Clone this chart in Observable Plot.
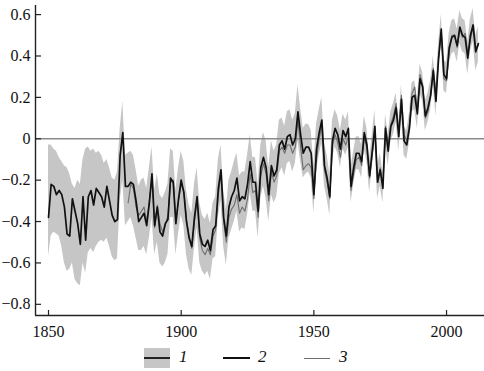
<!DOCTYPE html>
<html>
<head>
<meta charset="utf-8">
<script src="https://cdn.jsdelivr.net/npm/d3@7"></script>
<script src="https://cdn.jsdelivr.net/npm/@observablehq/plot@0.6"></script>
<style>
  html, body { margin: 0; padding: 0; background: #fff; }
  #chart { width: 484px; }
  #chart svg, #chart svg text { font-family: "Liberation Serif", "DejaVu Serif", serif !important; }
  .legend { position: relative; width: 484px; height: 28px; font-family: "Liberation Serif", serif; font-style: italic; font-size: 17px; color: #111; }
  .legend .sw { position: absolute; }
  .legend .lb { position: absolute; top: 3px; }
</style>
</head>
<body>
<div id="chart"></div>
<script>
// ---- data ----
const series2Start = 1850;
const series2 = [
  -0.38,-0.22,-0.23,-0.27,-0.25,-0.27,-0.33,-0.46,-0.47,-0.29,
  -0.35,-0.41,-0.51,-0.28,-0.49,-0.28,-0.25,-0.32,-0.24,-0.26,
  -0.28,-0.33,-0.23,-0.30,-0.37,-0.40,-0.39,-0.08, 0.03,-0.23,
  -0.23,-0.21,-0.22,-0.30,-0.40,-0.38,-0.36,-0.42,-0.31,-0.17,
  -0.42,-0.33,-0.45,-0.47,-0.41,-0.39,-0.19,-0.21,-0.41,-0.29,
  -0.20,-0.26,-0.40,-0.48,-0.52,-0.38,-0.28,-0.46,-0.51,-0.52,
  -0.49,-0.54,-0.44,-0.42,-0.24,-0.15,-0.38,-0.47,-0.33,-0.28,
  -0.25,-0.19,-0.30,-0.28,-0.29,-0.22,-0.11,-0.21,-0.21,-0.35,
  -0.14,-0.09,-0.14,-0.27,-0.13,-0.18,-0.15,-0.03,-0.01,-0.05,
   0.01, 0.02,-0.03, 0.00, 0.13, 0.02,-0.07,-0.04,-0.04,-0.07,
  -0.27,-0.05, 0.03, 0.09,-0.13,-0.19,-0.28,-0.01, 0.05, 0.02,
  -0.05, 0.04, 0.01, 0.05,-0.23,-0.14,-0.07,-0.07,-0.11, 0.03,
  -0.03,-0.18,-0.06, 0.06,-0.21,-0.15,-0.24, 0.05,-0.06, 0.06,
   0.09, 0.15, 0.01, 0.19,-0.01,-0.03, 0.05, 0.20, 0.21, 0.12,
   0.29, 0.25, 0.11, 0.15, 0.21, 0.33, 0.18, 0.39, 0.53, 0.31,
   0.29, 0.44, 0.49, 0.50, 0.45, 0.54, 0.50, 0.49, 0.39, 0.50,
   0.55, 0.42, 0.46
];
const series3Start = 1880;
const series3 = [
  -0.31,-0.22,-0.24,-0.33,-0.37,-0.35,-0.33,-0.40,-0.30,-0.19,
  -0.43,-0.32,-0.41,-0.45,-0.42,-0.37,-0.21,-0.20,-0.39,-0.30,
  -0.22,-0.25,-0.39,-0.47,-0.53,-0.40,-0.30,-0.48,-0.54,-0.56,
  -0.53,-0.56,-0.47,-0.44,-0.27,-0.17,-0.40,-0.50,-0.38,-0.34,
  -0.32,-0.27,-0.36,-0.33,-0.35,-0.29,-0.17,-0.26,-0.25,-0.38,
  -0.18,-0.12,-0.17,-0.30,-0.16,-0.21,-0.18,-0.06,-0.04,-0.07,
  -0.03,-0.03,-0.07,-0.04, 0.09,-0.04,-0.15,-0.13,-0.12,-0.14,
  -0.29,-0.10, 0.00, 0.06,-0.15,-0.21,-0.29,-0.03, 0.02,-0.02,
  -0.09, 0.00,-0.03, 0.01,-0.25,-0.17,-0.10,-0.09,-0.13, 0.01,
  -0.05,-0.19,-0.08, 0.05,-0.20,-0.14,-0.23, 0.06,-0.03, 0.07,
   0.11, 0.17, 0.03, 0.21, 0.02,-0.01, 0.07, 0.22, 0.25, 0.14,
   0.31, 0.26, 0.10, 0.13, 0.21, 0.34, 0.22, 0.39, 0.51, 0.29,
   0.28, 0.42, 0.50, 0.50, 0.44, 0.53, 0.49, 0.51, 0.41, 0.48,
   0.54, 0.44, 0.45
];
// uncertainty band (series 1), lower and upper edges, 1850–2012
const bandLow = [
  -0.57,-0.47,-0.45,-0.46,-0.47,-0.52,-0.60,-0.64,-0.63,-0.60,
  -0.68,-0.70,-0.71,-0.60,-0.65,-0.55,-0.53,-0.55,-0.52,-0.50,
  -0.49,-0.50,-0.48,-0.52,-0.57,-0.59,-0.58,-0.30,-0.20,-0.42,
  -0.40,-0.38,-0.42,-0.48,-0.54,-0.54,-0.52,-0.56,-0.48,-0.38,
  -0.56,-0.50,-0.60,-0.62,-0.60,-0.56,-0.38,-0.38,-0.56,-0.46,
  -0.37,-0.42,-0.56,-0.63,-0.66,-0.53,-0.43,-0.60,-0.64,-0.66,
  -0.64,-0.68,-0.58,-0.57,-0.38,-0.30,-0.52,-0.61,-0.48,-0.44,
  -0.40,-0.35,-0.45,-0.43,-0.44,-0.37,-0.26,-0.35,-0.35,-0.48,
  -0.29,-0.23,-0.29,-0.40,-0.27,-0.31,-0.28,-0.17,-0.14,-0.18,
  -0.12,-0.11,-0.16,-0.12,-0.01,-0.11,-0.19,-0.17,-0.16,-0.19,
  -0.36,-0.16,-0.08,-0.02,-0.23,-0.29,-0.37,-0.10,-0.04,-0.07,
  -0.14,-0.05,-0.08,-0.04,-0.31,-0.22,-0.15,-0.15,-0.19,-0.05,
  -0.11,-0.26,-0.14,-0.02,-0.29,-0.23,-0.31,-0.03,-0.13,-0.01,
   0.02, 0.08,-0.06, 0.12,-0.08,-0.10,-0.02, 0.13, 0.14, 0.05,
   0.22, 0.18, 0.04, 0.08, 0.14, 0.26, 0.11, 0.32, 0.46, 0.23,
   0.22, 0.36, 0.41, 0.42, 0.37, 0.46, 0.42, 0.41, 0.31, 0.42,
   0.47, 0.33, 0.37
];
const bandHigh = [
  -0.03,-0.03,-0.05,-0.06,-0.09,-0.11,-0.13,-0.14,-0.17,-0.22,
  -0.24,-0.20,-0.22,-0.10,-0.05,-0.04,-0.06,-0.05,-0.07,-0.06,
  -0.08,-0.12,-0.10,-0.14,-0.19,-0.20,-0.16, 0.05, 0.18,-0.08,
  -0.07,-0.06,-0.08,-0.15,-0.23,-0.20,-0.19,-0.24,-0.14,-0.04,
  -0.25,-0.17,-0.27,-0.29,-0.26,-0.22,-0.05,-0.06,-0.25,-0.14,
  -0.06,-0.11,-0.25,-0.32,-0.36,-0.22,-0.14,-0.31,-0.37,-0.39,
  -0.36,-0.41,-0.31,-0.28,-0.10,-0.03,-0.25,-0.34,-0.20,-0.16,
  -0.11,-0.07,-0.18,-0.16,-0.16,-0.08, 0.02,-0.09,-0.09,-0.22,
  -0.03, 0.03,-0.01,-0.14,-0.01,-0.06,-0.03, 0.09, 0.10, 0.06,
   0.13, 0.14, 0.09, 0.12, 0.26, 0.15, 0.05, 0.07, 0.07, 0.04,
  -0.13, 0.07, 0.14, 0.20,-0.02,-0.08,-0.17, 0.09, 0.14, 0.11,
   0.04, 0.12, 0.09, 0.13,-0.14,-0.06, 0.01, 0.01,-0.03, 0.11,
   0.05,-0.10, 0.02, 0.14,-0.13,-0.07,-0.16, 0.12, 0.02, 0.13,
   0.17, 0.22, 0.08, 0.26, 0.06, 0.04, 0.12, 0.27, 0.28, 0.19,
   0.36, 0.32, 0.18, 0.22, 0.28, 0.40, 0.25, 0.46, 0.60, 0.38,
   0.37, 0.51, 0.57, 0.58, 0.53, 0.62, 0.58, 0.57, 0.47, 0.58,
   0.63, 0.50, 0.54
];
const xTicks = [1850, 1900, 1950, 2000];
const yTicks = [-0.8, -0.6, -0.4, -0.2, 0, 0.2, 0.4, 0.6];
const legendLabels = ["1", "2", "3"];

// ---- tables ----
const main = series2.map((v, i) => ({year: series2Start + i, v, lo: bandLow[i], hi: bandHigh[i]}));
const other = series3.map((v, i) => ({year: series3Start + i, v}));

const xDomain = [1845.1, 2014.3];
const yDomain = [-0.854, 0.644];
const W = 484, H = 343, mT = 5, mB = 28, mL = 35, mR = 0;
const fmt = d => d === 0 ? "0" : (d < 0 ? "\u2212" : "") + Math.abs(d).toFixed(1);

const chart = Plot.plot({
  width: W, height: H,
  marginTop: mT, marginBottom: mB, marginLeft: mL, marginRight: mR,
  style: {fontFamily: "'Liberation Serif', serif", fontSize: "16px", color: "#111", background: "#fff"},
  x: {domain: xDomain, label: null},
  y: {domain: yDomain, label: null},
  marks: [
    Plot.areaY(main, {x: "year", y1: "lo", y2: "hi", fill: "#c6c6c6", curve: "linear"}),
    Plot.ruleY([0], {stroke: "#8a8a8a", strokeWidth: 1.3}),
    Plot.lineY(other, {x: "year", y: "v", stroke: "#6e6e6e", strokeWidth: 1.1}),
    Plot.lineY(main, {x: "year", y: "v", stroke: "#111", strokeWidth: 1.7}),
    Plot.axisY(yTicks, {tickSize: 0, tickPadding: 5, tickFormat: fmt, fontSize: 16, fill: "#111", label: null}),
    Plot.axisX(xTicks, {tickSize: 0, tickPadding: 10, tickFormat: d => String(d), fontSize: 16, fill: "#111", label: null}),
    Plot.tickY(yTicks, {y: d => d, stroke: "#222", strokeWidth: 1.2, insetRight: W - mL - mR - 6}),
    Plot.tickX(xTicks, {x: d => d, stroke: "#222", strokeWidth: 1.2, insetTop: H - mT - mB - 5}),
    Plot.ruleX([xDomain[0]], {stroke: "#222", strokeWidth: 1.4}),
    Plot.ruleY([yDomain[0]], {stroke: "#222", strokeWidth: 1.4})
  ]
});
document.getElementById("chart").appendChild(chart);

// ---- legend below the svg ----
const legend = document.createElement("div");
legend.className = "legend";
const items = [
  {sw: `<div style="width:26px;height:20px;background:#c6c6c6;position:relative"><div style="position:absolute;left:0;right:0;top:9px;height:2px;background:#222"></div></div>`, left: 144, labelLeft: 179},
  {sw: `<div style="width:27px;height:20px;position:relative"><div style="position:absolute;left:0;right:0;top:9px;height:2px;background:#111"></div></div>`, left: 223, labelLeft: 258},
  {sw: `<div style="width:26px;height:20px;position:relative"><div style="position:absolute;left:0;right:0;top:9.5px;height:1px;background:#6e6e6e"></div></div>`, left: 304, labelLeft: 339}
];
items.forEach((it, i) => {
  const s = document.createElement("div");
  s.className = "sw"; s.style.left = it.left + "px"; s.style.top = "5px";
  s.innerHTML = it.sw;
  const l = document.createElement("div");
  l.className = "lb"; l.style.left = it.labelLeft + "px"; l.style.top = "4px";
  l.textContent = legendLabels[i];
  legend.appendChild(s); legend.appendChild(l);
});
document.body.appendChild(legend);
</script>
</body>
</html>
